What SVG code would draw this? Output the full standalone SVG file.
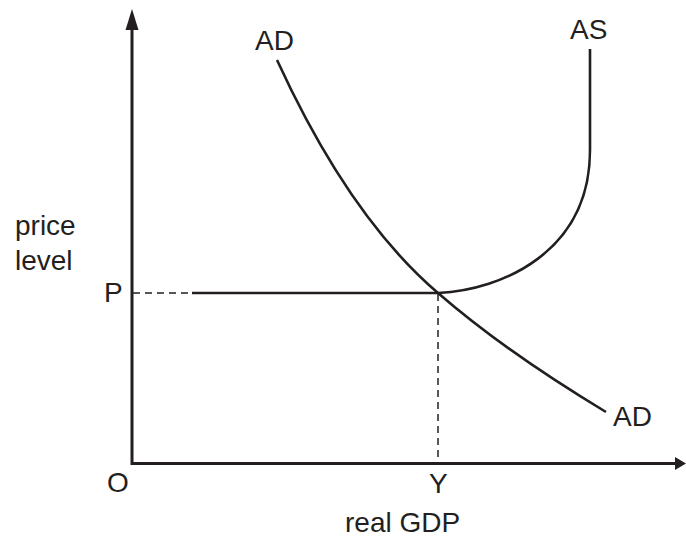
<svg xmlns="http://www.w3.org/2000/svg" width="686" height="538" viewBox="0 0 686 538">
<style>
text{font-family:"Liberation Sans",Arial,sans-serif;font-size:28px;fill:#231f20}
.axis{stroke:#231f20;stroke-width:3;fill:none}
.curve{stroke:#231f20;stroke-width:2.6;fill:none}
.dash{stroke:#231f20;stroke-width:1.5;fill:none;stroke-dasharray:7 5}
</style>
<rect width="686" height="538" fill="#fff"/>
<g id="axes">
<path class="axis" d="M132,28 V463.5 H676"/>
<polygon points="132,9 125.5,30 138.5,30" fill="#231f20"/>
<polygon points="686,463.5 675,457 675,470" fill="#231f20"/>
</g>
<g id="connectors">
<path class="dash" d="M133,293 H192"/>
<path class="dash" d="M438,294 V462"/>
</g>
<g id="AD">
<path class="curve" d="M277,60 Q349,217 438,293 Q506,352 606,412"/>
</g>
<g id="AS">
<path class="curve" d="M192,293 H438 C502,290 590,252 590,150 V49"/>
</g>
<g id="labels">
<text x="255" y="50">AD</text>
<text x="570" y="39">AS</text>
<text x="613" y="426">AD</text>
<text x="104" y="302">P</text>
<text x="15" y="235">price</text>
<text x="15" y="270">level</text>
<text x="107" y="492">O</text>
<text x="429" y="493">Y</text>
<text x="345" y="532">real GDP</text>
</g>
</svg>
